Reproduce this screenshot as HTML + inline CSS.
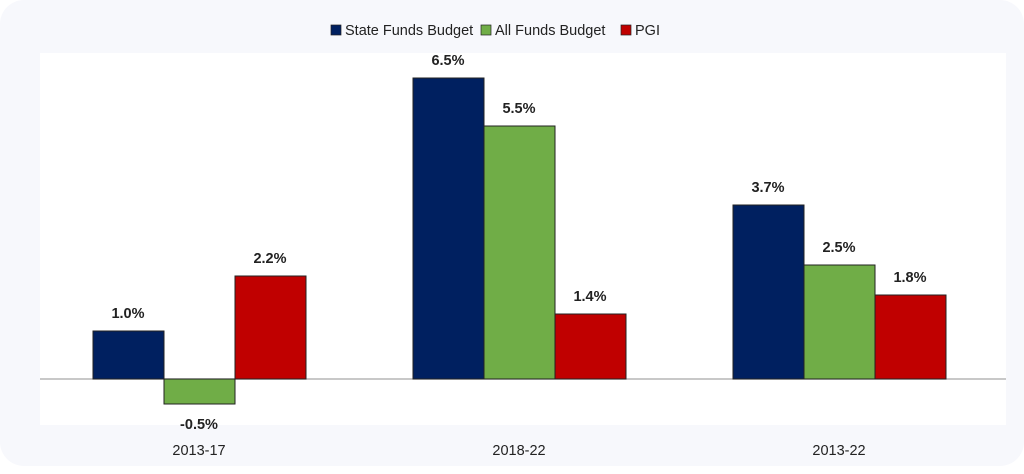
<!DOCTYPE html>
<html><head><style>
body{margin:0;background:#fff;}
</style></head><body>
<svg width="1024" height="469" xmlns="http://www.w3.org/2000/svg" font-family="Liberation Sans, sans-serif">
<rect x="0" y="0" width="1024" height="466" rx="24" fill="#f7f8fc"/>
<rect x="40" y="53" width="966" height="372" fill="#ffffff"/>
<line x1="40" y1="379" x2="1006" y2="379" stroke="#a6a6a6" stroke-width="1.3"/>
<g stroke="#222" stroke-width="1">
<rect x="93" y="331" width="71" height="48" fill="#002060"/>
<rect x="164" y="379" width="71" height="25" fill="#70ad47"/>
<rect x="235" y="276" width="71" height="103" fill="#c00000"/>
<rect x="413" y="78" width="71" height="301" fill="#002060"/>
<rect x="484" y="126" width="71" height="253" fill="#70ad47"/>
<rect x="555" y="314" width="71" height="65" fill="#c00000"/>
<rect x="733" y="205" width="71" height="174" fill="#002060"/>
<rect x="804" y="265" width="71" height="114" fill="#70ad47"/>
<rect x="875" y="295" width="71" height="84" fill="#c00000"/>
</g>
<g font-size="14.5" font-weight="bold" fill="#222" text-anchor="middle">
<text x="128" y="318">1.0%</text>
<text x="199" y="429">-0.5%</text>
<text x="270" y="263">2.2%</text>
<text x="448" y="65">6.5%</text>
<text x="519" y="113">5.5%</text>
<text x="590" y="301">1.4%</text>
<text x="768" y="192">3.7%</text>
<text x="839" y="252">2.5%</text>
<text x="910" y="282">1.8%</text>
</g>
<g font-size="14.5" fill="#222" text-anchor="middle">
<text x="199" y="455">2013-17</text>
<text x="519" y="455">2018-22</text>
<text x="839" y="455">2013-22</text>
</g>
<g font-size="14.5" fill="#222">
<rect x="331" y="25" width="10" height="10" fill="#002060" stroke="#222" stroke-width="0.7"/>
<text x="345" y="35">State Funds Budget</text>
<rect x="481" y="25" width="10" height="10" fill="#70ad47" stroke="#222" stroke-width="0.7"/>
<text x="495" y="35">All Funds Budget</text>
<rect x="621" y="25" width="10" height="10" fill="#c00000" stroke="#222" stroke-width="0.7"/>
<text x="635" y="35">PGI</text>
</g>
</svg>
</body></html>
